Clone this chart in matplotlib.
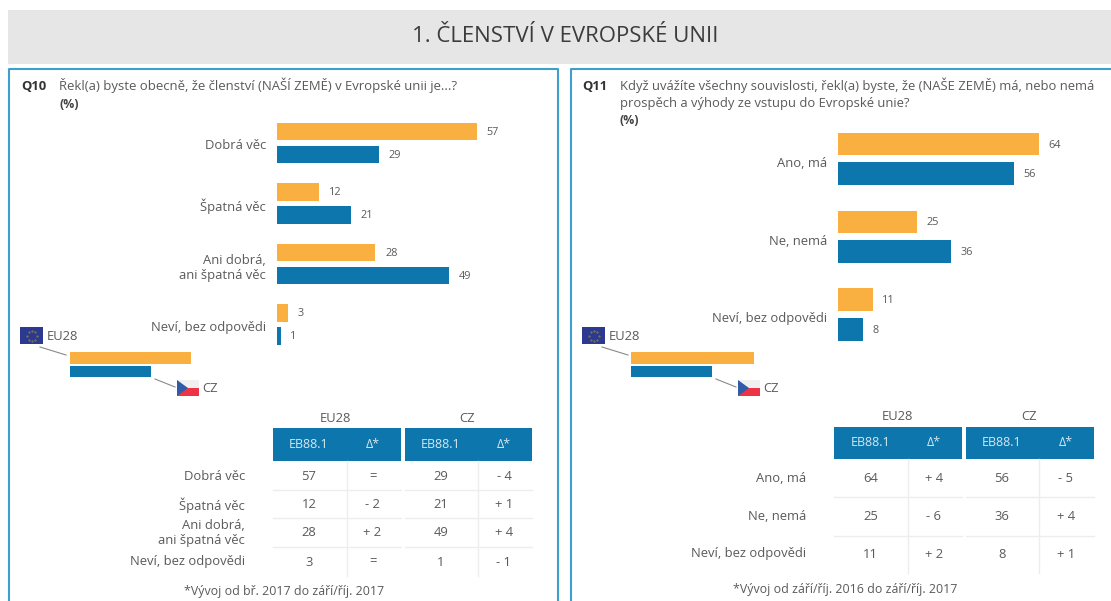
import matplotlib
matplotlib.use('Agg')
import matplotlib.pyplot as plt
from matplotlib.patches import Rectangle, Polygon
from matplotlib.transforms import ScaledTranslation

W, H = 1111, 601
ORANGE = '#F9B041'
BLUE = '#0D76AC'
FRAME = '#3F9FCC'
GREY = '#5A5A5A'
GRID = '#EDEDED'

plt.rcParams['font.family'] = ['Open Sans', 'DejaVu Sans']

title = '1. ČLENSTVÍ V EVROPSKÉ UNII'

q10_cats = ['Dobrá věc', 'Špatná věc', 'Ani dobrá,\nani špatná věc', 'Neví, bez odpovědi']
q10_eu = [57, 12, 28, 3]
q10_cz = [29, 21, 49, 1]
q10_eu_delta = ['=', '- 2', '+ 2', '=']
q10_cz_delta = ['- 4', '+ 1', '+ 4', '- 1']
q10_note = '*Vývoj od bř. 2017 do září/říj. 2017'

q11_cats = ['Ano, má', 'Ne, nemá', 'Neví, bez odpovědi']
q11_eu = [64, 25, 11]
q11_cz = [56, 36, 8]
q11_eu_delta = ['+ 4', '- 6', '+ 2']
q11_cz_delta = ['- 5', '+ 4', '+ 1']
q11_note = '*Vývoj od září/říj. 2016 do září/říj. 2017'


def txt(ax, x, y, s, size=9.4, color=GREY, ha='left', va='center', **kw):
    ax.text(x, y, s, fontsize=size, color=color, ha=ha, va=va, **kw)


def rect(ax, x0, y0, x1, y1, color, **kw):
    ax.add_patch(Rectangle((x0, y0), x1 - x0, y1 - y0, facecolor=color, edgecolor='none', **kw))


def plotBars(fig, cats, eu, cz, left, top, bottom, scale, right, label_shift):
    # one axes per panel, the x scale is the pixel length of one percent
    ax = fig.add_axes([left / W, 1 - bottom / H, (right - left) / W, (bottom - top) / H])
    ypos = list(range(len(cats)))
    ax.barh([y - 0.19 for y in ypos], eu, height=0.29, color=ORANGE)
    ax.barh([y + 0.19 for y in ypos], cz, height=0.29, color=BLUE)
    ax.set_xlim(0, (right - left) / scale)
    ax.set_ylim(len(cats) - 0.5, -0.5)
    for y, a, b in zip(ypos, eu, cz):
        ax.annotate(str(a), (a, y - 0.19), xytext=(7, -0.7), textcoords='offset points',
                    fontsize=7.8, color=GREY, va='center')
        ax.annotate(str(b), (b, y + 0.19), xytext=(7, -0.7), textcoords='offset points',
                    fontsize=7.8, color=GREY, va='center')
    ax.set_yticks(ypos)
    ax.set_yticklabels(cats, fontsize=9.4, color=GREY, ha='right', linespacing=1.2)
    ax.set_xticks([])
    ax.tick_params(axis='y', length=0, pad=8)
    shift = ScaledTranslation(0, -label_shift / 100, fig.dpi_scale_trans)
    for lab in ax.get_yticklabels():
        lab.set_transform(lab.get_transform() + shift)
    for s in ax.spines.values():
        s.set_visible(False)
    ax.patch.set_alpha(0)
    return ax


def plotKey(bg, flag_x, bar_x0, bar_x1, bar_x2, cz_x):
    # EU flag
    rect(bg, flag_x, 327, flag_x + 23, 344, '#2B3990')
    bg.plot([flag_x + 11.5 + d for d in (-5, -3, 0, 3, 5, 3, 0, -3)],
            [335.5 + d for d in (0, -4, -5, -4, 0, 4, 5, 4)],
            ls='none', marker='.', ms=1, color='#8A8050')
    txt(bg, flag_x + 27, 336, 'EU28')
    bg.plot([flag_x + 20, flag_x + 46], [347, 355], color='#8A8A8A', lw=0.8)
    rect(bg, bar_x0, 352, bar_x2, 364, ORANGE)
    rect(bg, bar_x0, 366, bar_x1, 377, BLUE)
    bg.plot([bar_x1 + 4, bar_x1 + 24], [379, 387], color='#8A8A8A', lw=0.8)
    # CZ flag
    rect(bg, cz_x, 380, cz_x + 22, 388, '#F0F0F0')
    rect(bg, cz_x, 388, cz_x + 22, 396, '#EE3344')
    bg.add_patch(Polygon([(cz_x, 380), (cz_x, 396), (cz_x + 11, 388)], facecolor='#2F5BA8', edgecolor='none'))
    txt(bg, cz_x + 25, 389, 'CZ')


def plotTable(bg, cats, eu, eu_d, cz, cz_d, cols, divs, blocks, head_y, rows, lines, vend, label_x):
    txt(bg, (cols[0] + cols[1]) / 2 - 5, head_y[0] - 10, 'EU28', ha='center')
    txt(bg, (cols[2] + cols[3]) / 2 - 5, head_y[0] - 10, 'CZ', ha='center')
    for x0, x1 in blocks:
        rect(bg, x0, head_y[0], x1, head_y[1], BLUE)
    mid = (head_y[0] + head_y[1]) / 2
    for i, s in enumerate(['EB88.1', 'Δ*', 'EB88.1', 'Δ*']):
        txt(bg, cols[i], mid, s, size=9, color='#D5E8F2', ha='center')
    for x in divs:
        bg.plot([x, x], [head_y[1], vend], color=GRID, lw=1)
    for y in lines:
        for x0, x1 in blocks:
            bg.plot([x0, x1], [y, y], color=GRID, lw=1)
    for i, y in enumerate(rows):
        txt(bg, label_x, y, cats[i], ha='right', linespacing=1.2)
        for x, s in zip(cols, [eu[i], eu_d[i], cz[i], cz_d[i]]):
            txt(bg, x, y, str(s), ha='center', size=9.4)


f = plt.figure(figsize=(W / 100, H / 100), dpi=100)

# background layer in pixel coordinates for frames, key and tables
bg = f.add_axes([0, 0, 1, 1])
bg.set_xlim(0, W)
bg.set_ylim(H, 0)
bg.axis('off')

rect(bg, 8, 10, W, 64, '#E6E6E6')
txt(bg, 565, 36, title, size=16, color='#3C3C3C', ha='center')

bg.plot([9, 9, 558, 558], [H, 69, 69, H], color=FRAME, lw=1.5)
bg.plot([571, 571, W + 5], [H, 69, 69], color=FRAME, lw=1.5)

txt(bg, 21, 86, 'Q10', size=9.4, color='#333333', fontweight='bold')
txt(bg, 59, 85, 'Řekl(a) byste obecně, že členství (NAŠÍ ZEMĚ) v Evropské unii je...?', size=9.45)
txt(bg, 59, 105, '(%)', size=8.8, color='#444444', fontweight='bold')

txt(bg, 582, 86, 'Q11', size=9.4, color='#333333', fontweight='bold')
txt(bg, 620, 85, 'Když uvážíte všechny souvislosti, řekl(a) byste, že (NAŠE ZEMĚ) má, nebo nemá', size=9.4)
txt(bg, 620, 103, 'prospěch a výhody ze vstupu do Evropské unie?', size=9.4)
txt(bg, 620, 121, '(%)', size=8.8, color='#444444', fontweight='bold')

plotBars(f, q10_cats, q10_eu, q10_cz, 277, 112.75, 354.75, 3.51, 540, 1)
plotBars(f, q11_cats, q11_eu, q11_cz, 838, 120, 353.4, 3.14, 1100, 3)

plotKey(bg, 20, 70, 151, 191, 177)
plotKey(bg, 582, 631, 712, 753.5, 738)

plotTable(bg, q10_cats, q10_eu, q10_eu_delta, q10_cz, q10_cz_delta,
          [309, 372.5, 441, 504], [347, 477.5], [(273, 401), (405, 532)], (428, 461),
          [477, 505, 533, 562], [490, 518, 547], 576, 245)
plotTable(bg, q11_cats, q11_eu, q11_eu_delta, q11_cz, q11_cz_delta,
          [870.5, 934, 1002, 1066], [908, 1039], [(834, 962), (966, 1094)], (427, 459),
          [479, 516, 554], [497, 536], 573, 806)

txt(bg, 284, 592, q10_note, size=8.9, ha='center')
txt(bg, 845, 590, q11_note, size=8.9, ha='center')

f.savefig('out.png', dpi=100)
